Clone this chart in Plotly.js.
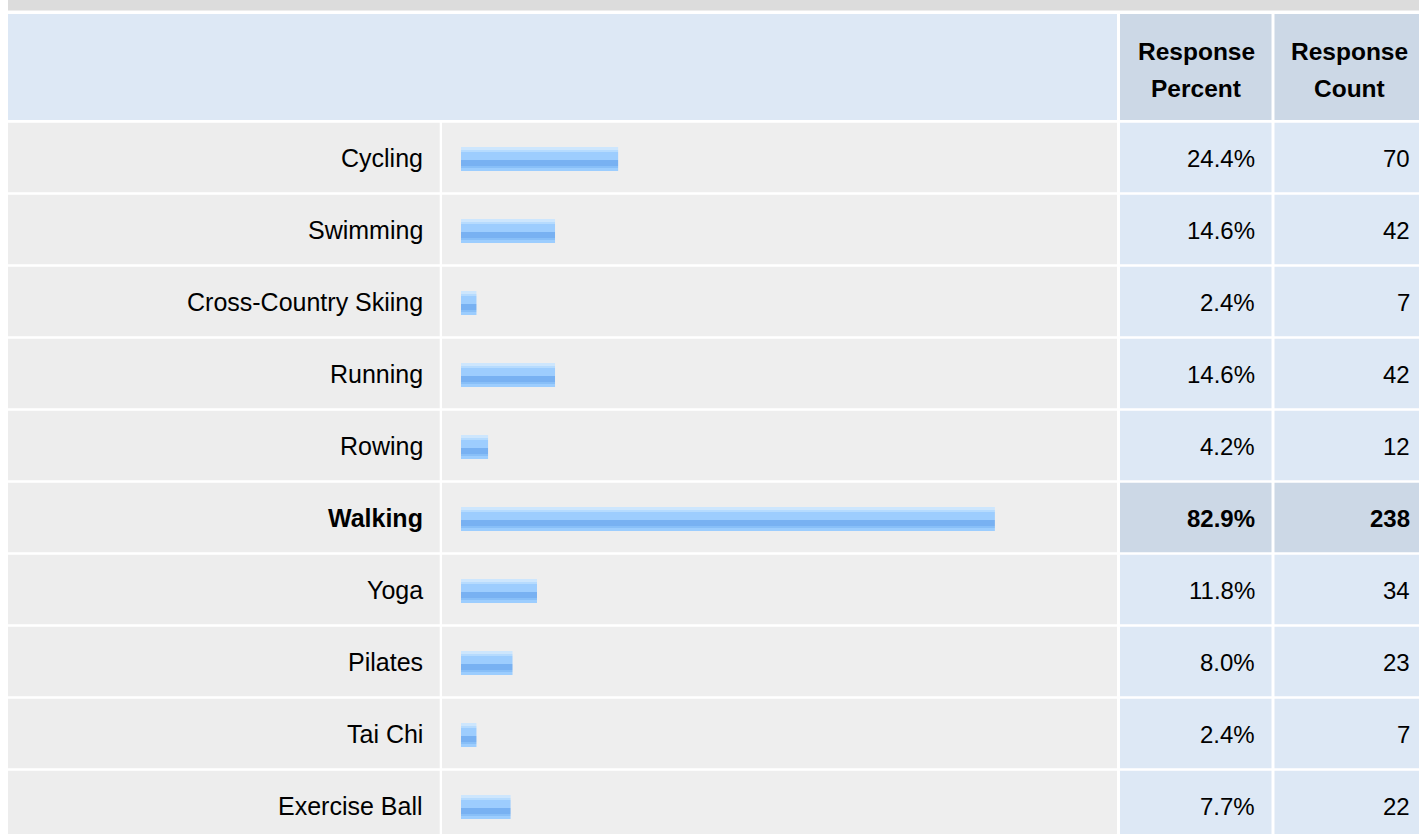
<!DOCTYPE html>
<html>
<head>
<meta charset="utf-8">
<script src="https://cdn.plot.ly/plotly-3.0.1.min.js"></script>
<style>html,body{margin:0;padding:0;background:#fff;}#chart{width:1419px;height:834px;}</style>
</head>
<body>
<div id="chart"></div>
<script>
// ---- data ----
const categories = ['Cycling', 'Swimming', 'Cross-Country Skiing', 'Running', 'Rowing', 'Walking', 'Yoga', 'Pilates', 'Tai Chi', 'Exercise Ball'];
const percents = [24.4, 14.6, 2.4, 14.6, 4.2, 82.9, 11.8, 8.0, 2.4, 7.7];
const counts = [70, 42, 7, 42, 12, 238, 34, 23, 7, 22];
const headerPercent = ['Response', 'Percent'];
const headerCount = ['Response', 'Count'];

// ---- layout helpers (pixel geometry of the page) ----
const W = 1419, H = 834;
const PITCH = 72, C0 = 159;             // row pitch and first bar centre (px)
const px = v => v / W;                  // pixel x -> paper
const ry = p => (p - C0) / PITCH;       // pixel y -> category units
const FONT = 'Liberation Sans, Arial, Helvetica, sans-serif';

const maxIdx = percents.indexOf(Math.max(...percents));

// stripe styling of the bars (pixel offsets inside a 24px bar)
const stripes = [
  {t: 0,  h: 3,  c: '#cde6fd'},
  {t: 3,  h: 2,  c: '#b6dbfe'},
  {t: 5,  h: 8,  c: '#9dcdfe'},
  {t: 13, h: 6,  c: '#78b1f2'},
  {t: 19, h: 2,  c: '#88bff8'},
  {t: 21, h: 3,  c: '#9ccdfe'}
];

const traces = stripes.map(s => ({
  type: 'bar', orientation: 'h',
  y: categories, x: percents,
  offset: (s.t - 12) / PITCH, width: s.h / PITCH,
  marker: {color: s.c, line: {width: 0}},
  hoverinfo: 'skip', showlegend: false
}));

// ---- cell backgrounds ----
const shapes = [];
function rect(x0, x1, y0, y1, color) {
  shapes.push({type: 'rect', layer: 'below', xref: 'paper', yref: 'y',
    x0: px(x0), x1: px(x1), y0: ry(y0), y1: ry(y1),
    fillcolor: color, line: {width: 0}});
}
rect(8, W, -1, 10.5, '#dcdcdc');
rect(8, 1117, 14, 120, '#dde8f5');
rect(1120, 1271.5, 14, 120, '#ccd8e6');
rect(1274.5, W + 2, 14, 120, '#ccd8e6');
categories.forEach((c, i) => {
  const top = 122.7 + PITCH * i, bot = top + 69.6;
  const valColor = i === maxIdx ? '#ccd8e6' : '#dde8f5';
  rect(8, 439.7, top, bot, '#ededed');
  rect(442, 1117, top, bot, '#eeeeee');
  rect(1120, 1271.5, top, bot, valColor);
  rect(1274.5, W + 2, top, bot, valColor);
});

// ---- texts ----
const annotations = [];
function txt(text, x, xanchor, y, size) {
  annotations.push({text: text, xref: 'paper', yref: 'y', x: px(x), y: y,
    xanchor: xanchor, yanchor: 'middle', showarrow: false,
    font: {family: FONT, size: size, color: '#000'}});
}
txt('<b>' + headerPercent[0] + '</b>', 1196, 'center', ry(51), 24.5);
txt('<b>' + headerPercent[1] + '</b>', 1196, 'center', ry(88), 24.5);
txt('<b>' + headerCount[0] + '</b>', 1349, 'center', ry(51), 24.5);
txt('<b>' + headerCount[1] + '</b>', 1349, 'center', ry(88), 24.5);
categories.forEach((c, i) => {
  const b = i === maxIdx;
  const wrap = s => b ? '<b>' + s + '</b>' : s;
  const yc = i - 1.0 / PITCH;
  txt(wrap(c), 425, 'right', yc, 25);
  txt(wrap(percents[i].toFixed(1) + '%'), 1257, 'right', yc, 24);
  txt(wrap(String(counts[i])), 1412, 'right', yc, 24);
});

const layout = {
  width: W, height: H,
  margin: {l: 0, r: 0, t: 0, b: 0, pad: 0},
  paper_bgcolor: '#ffffff', plot_bgcolor: '#ffffff',
  barmode: 'overlay', showlegend: false,
  xaxis: {domain: [0, 1], range: [-461 / 6.44, (W - 461) / 6.44],
    showgrid: false, zeroline: false, showticklabels: false, showline: false, fixedrange: true},
  yaxis: {domain: [0, 1], type: 'category', categoryorder: 'array', categoryarray: categories,
    range: [ry(H), ry(0)], showgrid: false, zeroline: false, showticklabels: false,
    showline: false, fixedrange: true},
  shapes: shapes,
  annotations: annotations
};

Plotly.newPlot('chart', traces, layout, {displayModeBar: false, staticPlot: true});
</script>
</body>
</html>
